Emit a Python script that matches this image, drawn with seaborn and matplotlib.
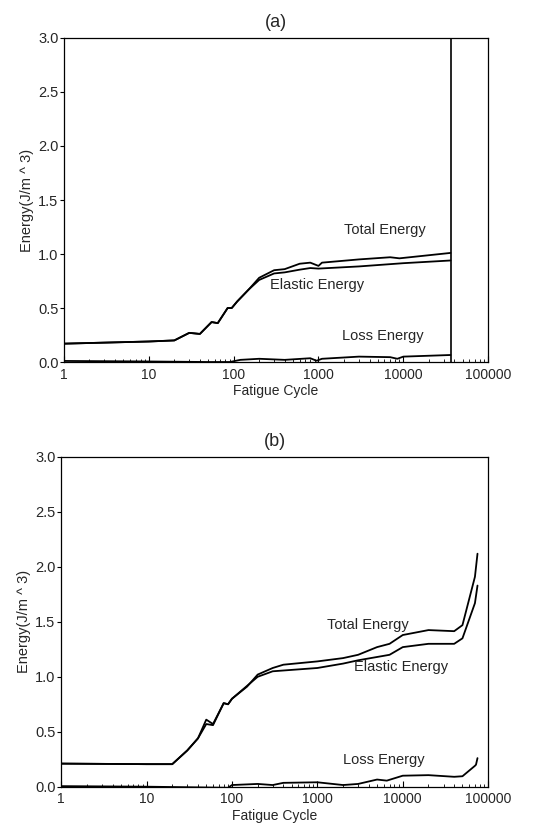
import numpy as np
import pandas as pd
import matplotlib
matplotlib.use("Agg")
import matplotlib.pyplot as plt
from matplotlib.ticker import FixedLocator, FuncFormatter, LogLocator, NullFormatter
import seaborn as sns

# ---------------- data: panel (a) ----------------
a_total_x = [1, 10, 20, 30, 40, 55, 65, 85, 95, 110, 150, 200, 300, 400, 600, 800, 1000, 1100, 3000, 7000, 9000, 36000]
a_total_y = [0.17, 0.19, 0.20, 0.27, 0.26, 0.37, 0.36, 0.50, 0.50, 0.56, 0.67, 0.78, 0.85, 0.86, 0.91, 0.92, 0.89, 0.92, 0.95, 0.97, 0.96, 1.01]
a_elastic_x = [1, 10, 20, 30, 40, 55, 65, 85, 95, 110, 150, 200, 300, 400, 600, 800, 1000, 3000, 10000, 36000]
a_elastic_y = [0.17, 0.19, 0.20, 0.27, 0.26, 0.37, 0.36, 0.50, 0.50, 0.56, 0.67, 0.76, 0.82, 0.83, 0.855, 0.87, 0.865, 0.885, 0.915, 0.94]
a_loss_x = [1, 10, 50, 90, 120, 200, 400, 800, 950, 1100, 3000, 7000, 8500, 10000, 36000]
a_loss_y = [0.01, 0.005, 0.0, 0.0, 0.02, 0.03, 0.02, 0.035, 0.012, 0.03, 0.05, 0.045, 0.03, 0.05, 0.065]
a_failure_cycle = 36000

# ---------------- data: panel (b) ----------------
b_total_x = [1, 10, 20, 30, 40, 50, 60, 80, 90, 100, 150, 200, 300, 400, 1000, 2000, 3000, 5000, 7000, 10000, 20000, 40000, 50000, 70000, 75000]
b_total_y = [0.21, 0.205, 0.205, 0.33, 0.44, 0.61, 0.57, 0.76, 0.75, 0.80, 0.91, 1.02, 1.08, 1.11, 1.14, 1.17, 1.20, 1.27, 1.30, 1.38, 1.425, 1.415, 1.47, 1.91, 2.12]
b_elastic_x = [1, 10, 20, 30, 40, 50, 60, 80, 90, 100, 200, 300, 1000, 2000, 3000, 7000, 10000, 20000, 40000, 50000, 70000, 75000]
b_elastic_y = [0.21, 0.205, 0.205, 0.33, 0.44, 0.57, 0.56, 0.76, 0.75, 0.80, 1.00, 1.05, 1.08, 1.12, 1.15, 1.20, 1.27, 1.30, 1.30, 1.35, 1.67, 1.83]
b_loss_x = [1, 10, 90, 100, 200, 300, 400, 1000, 2000, 3000, 5000, 6500, 10000, 20000, 40000, 50000, 70000, 72000, 75000]
b_loss_y = [0.005, 0.0, -0.01, 0.015, 0.025, 0.015, 0.035, 0.04, 0.015, 0.025, 0.065, 0.055, 0.10, 0.105, 0.09, 0.095, 0.19, 0.20, 0.26]

xticks = [1, 10, 100, 1000, 10000, 100000]
yticks = [0.0, 0.5, 1.0, 1.5, 2.0, 2.5, 3.0]
series_names = ["Total Energy", "Elastic Energy", "Loss Energy"]
a_label_pos = [(2000, 1.225), (265, 0.71), (1900, 0.24)]
b_label_pos = [(1300, 1.47), (2700, 1.09), (2000, 0.24)]

sns.set_theme(style="ticks")
plt.rcParams['font.family'] = ['Liberation Sans', 'DejaVu Sans']

fig = plt.figure(figsize=(5.56, 8.33), dpi=100)
ax_a = fig.add_axes([0.115, 0.5654, 0.763, 0.389])
ax_b = fig.add_axes([0.110, 0.0556, 0.768, 0.3958])


def style_axis(ax, title):
    ax.set_xscale("log")
    ax.set_xlim(1, 100000)
    ax.set_ylim(0, 3.0)
    ax.xaxis.set_major_locator(FixedLocator(xticks))
    ax.xaxis.set_major_formatter(FuncFormatter(lambda v, p: f"{int(round(v))}"))
    ax.xaxis.set_minor_locator(LogLocator(base=10, subs=np.arange(2, 10), numticks=20))
    ax.xaxis.set_minor_formatter(NullFormatter())
    ax.yaxis.set_major_locator(FixedLocator(yticks))
    ax.yaxis.set_major_formatter(FuncFormatter(lambda v, p: f"{v:.1f}"))
    ax.tick_params(axis="x", which="major", direction="in", length=4, width=0.8, labelsize=10, pad=4, color="black")
    ax.tick_params(axis="x", which="minor", direction="in", length=2.5, width=0.6, color="black")
    ax.tick_params(axis="y", which="major", direction="out", length=3, width=0.8, labelsize=10.5, pad=1, color="black")
    for s in ax.spines.values():
        s.set_visible(True)
        s.set_color("black")
        s.set_linewidth(0.9)
    ax.set_xlabel("Fatigue Cycle", fontsize=10, labelpad=2)
    ax.set_ylabel("Energy(J/m ^ 3)", fontsize=10.5, labelpad=3)
    ax.set_title(title, fontsize=13, pad=8)


# Panel (a)
for xs, ys in [(a_total_x, a_total_y), (a_elastic_x, a_elastic_y), (a_loss_x, a_loss_y)]:
    sns.lineplot(x=xs, y=ys, ax=ax_a, color="black", linewidth=1.3, estimator=None)
ax_a.axvline(a_failure_cycle, color="black", linewidth=1.2)
style_axis(ax_a, "(a)")
for name, (lx, ly) in zip(series_names, a_label_pos):
    ax_a.text(lx, ly, name, fontsize=10.5, ha="left", va="center")

# Panel (b)
for xs, ys in [(b_total_x, b_total_y), (b_elastic_x, b_elastic_y), (b_loss_x, b_loss_y)]:
    sns.lineplot(x=xs, y=ys, ax=ax_b, color="black", linewidth=1.3, estimator=None)
style_axis(ax_b, "(b)")
for name, (lx, ly) in zip(series_names, b_label_pos):
    ax_b.text(lx, ly, name, fontsize=10.5, ha="left", va="center")

fig.savefig("out.png", dpi=100, facecolor="white")
